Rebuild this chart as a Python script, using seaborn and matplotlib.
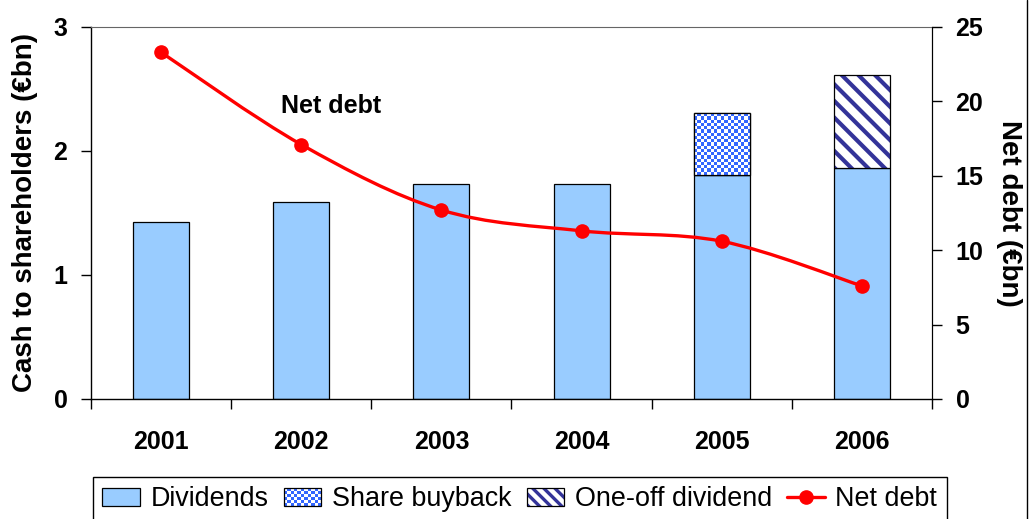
import numpy as np
import pandas as pd
import matplotlib
matplotlib.use("Agg")
import matplotlib.pyplot as plt
from matplotlib.path import Path
from matplotlib.patches import PathPatch, Patch, Rectangle
from matplotlib.lines import Line2D
from matplotlib.colors import ListedColormap
from matplotlib.legend_handler import HandlerBase
import seaborn as sns

# ---- data -------------------------------------------------------------
years = ["2001", "2002", "2003", "2004", "2005", "2006"]
dividends = [1.43, 1.59, 1.73, 1.73, 1.81, 1.86]          # € bn
share_buyback = [0, 0, 0, 0, 0.50, 0]                      # € bn
one_off_dividend = [0, 0, 0, 0, 0, 0.75]                   # € bn
net_debt = [23.3, 17.1, 12.7, 11.3, 10.6, 7.6]             # € bn
left_ticks = [0, 1, 2, 3]
right_ticks = [0, 5, 10, 15, 20, 25]

# ---- style ------------------------------------------------------------
sns.set_style("ticks")
plt.rcParams["font.family"] = ["Liberation Sans", "DejaVu Sans"]
plt.rcParams["font.weight"] = "bold"
plt.rcParams["hatch.linewidth"] = 3.0
for key in ["text.color", "axes.labelcolor", "xtick.color", "ytick.color",
            "xtick.labelcolor", "ytick.labelcolor"]:
    plt.rcParams[key] = "black"

DIV_COLOR = "#99CCFF"
BUY_COLOR = "#3366FF"
ONE_COLOR = "#333399"
LINE_COLOR = "#FF0000"

df = pd.DataFrame({
    "year": years,
    "dividends": dividends,
    "share_buyback": share_buyback,
    "one_off_dividend": one_off_dividend,
})

W, H = 1032, 519
fig = plt.figure(figsize=(W / 100, H / 100), dpi=100)
ax = fig.add_axes([91 / W, 1 - 399 / H, 841 / W, 372 / H])


def set_limits():
    ax.set_xlim(-0.5, len(years) - 0.5)
    ax.set_ylim(0, 3)


# Dividends (base segment)
sns.barplot(data=df, x="year", y="dividends", color=DIV_COLOR, saturation=1,
            width=0.4, edgecolor="black", linewidth=0.9, errorbar=None, ax=ax)
set_limits()

# Share buyback stacked on dividends
n0 = len(ax.patches)
sns.barplot(data=df, x="year", y="share_buyback", color="white", saturation=1,
            width=0.4, edgecolor="black", linewidth=0.9, errorbar=None, ax=ax,
            bottom=np.array(dividends))
buy_bars = ax.patches[n0:]
set_limits()


def checker_fill(bar, color, cell_px=3.3):
    x0, y0 = bar.get_x(), bar.get_y()
    w, h = bar.get_width(), bar.get_height()
    (px0, py0), (px1, py1) = ax.transData.transform([(x0, y0), (x0 + w, y0 + h)])
    nx = max(1, int(round(abs(px1 - px0) / cell_px)))
    ny = max(1, int(round(abs(py1 - py0) / cell_px)))
    grid = np.add.outer(np.arange(ny), np.arange(nx)) % 2
    im = ax.imshow(grid, extent=(x0, x0 + w, y0, y0 + h),
                   cmap=ListedColormap(["white", color]), vmin=0, vmax=1,
                   interpolation="nearest", aspect="auto", origin="lower",
                   zorder=bar.get_zorder() + 0.1)
    im.set_clip_path(bar)
    ax.add_patch(Rectangle((x0, y0), w, h, facecolor="none", edgecolor="black",
                           linewidth=0.9, zorder=bar.get_zorder() + 0.2))


for bar in list(buy_bars):
    if bar.get_height() <= 0:
        bar.set_visible(False)
    else:
        bar.set_facecolor("white")
        checker_fill(bar, BUY_COLOR)
set_limits()

# One-off dividend stacked on top
n1 = len(ax.patches)
sns.barplot(data=df, x="year", y="one_off_dividend", color="white", saturation=1,
            width=0.4, edgecolor=ONE_COLOR, linewidth=0, errorbar=None, ax=ax,
            bottom=np.array(dividends) + np.array(share_buyback))
one_bars = ax.patches[n1:]
for bar in list(one_bars):
    if bar.get_height() <= 0:
        bar.set_visible(False)
    else:
        bar.set_facecolor("white")
        bar.set_edgecolor(ONE_COLOR)
        bar.set_linewidth(0)
        bar.set_hatch("\\\\")
        if hasattr(bar, "set_hatch_linewidth"):
            bar.set_hatch_linewidth(3.0)
        ax.add_patch(Rectangle((bar.get_x(), bar.get_y()), bar.get_width(),
                               bar.get_height(), facecolor="none",
                               edgecolor="black", linewidth=0.9,
                               zorder=bar.get_zorder() + 0.2))
set_limits()

# ---- left axis / x axis ----------------------------------------------
ax.set_yticks(left_ticks)
ax.set_yticklabels([str(t) for t in left_ticks])
ax.tick_params(axis="y", direction="out", length=7, width=1, pad=10,
               labelsize=18, color="black", labelcolor="black")
ax.set_xticks(np.arange(-0.5, len(years), 1.0))
ax.set_xticklabels([""] * (len(years) + 1))
ax.set_xticks(np.arange(len(years)), minor=True)
ax.set_xticklabels(years, minor=True)
ax.tick_params(axis="x", which="major", direction="out", length=7, width=1,
               color="black")
ax.tick_params(axis="x", which="minor", length=0, pad=22, labelsize=18,
               labelcolor="black")
ax.set_xlabel("")
ax.set_ylabel("Cash to shareholders (€bn)", fontsize=20, fontweight="bold",
              va="center", color="black")
ax.yaxis.set_label_coords(-0.078, 0.5)
for side in ["left", "bottom"]:
    ax.spines[side].set_color("black")
    ax.spines[side].set_linewidth(1)
ax.spines["top"].set_color("#666666")
ax.spines["right"].set_color("black")
ax.text(1.21, 2.36, "Net debt", ha="center", va="center", fontsize=18,
        fontweight="bold", color="black")

# ---- right axis: net debt --------------------------------------------
ax2 = ax.twinx()
ax2.set_ylim(0, 25)
ax2.set_yticks(right_ticks)
ax2.set_yticklabels([str(t) for t in right_ticks])
ax2.tick_params(axis="y", direction="out", length=7, width=1, pad=10,
                labelsize=18, color="black", labelcolor="black")
ax2.set_ylabel("Net debt (€bn)", rotation=-90, fontsize=20, fontweight="bold",
               va="center", color="black")
ax2.yaxis.set_label_coords(1.091, 0.5)
for side in ["top", "left", "bottom"]:
    ax2.spines[side].set_visible(False)
ax2.spines["right"].set_color("black")

xs = np.arange(len(years), dtype=float)
pts = np.column_stack([xs, np.array(net_debt, dtype=float)])
verts = [tuple(pts[0])]
codes = [Path.MOVETO]
n = len(pts)
for i in range(n - 1):
    p0 = pts[max(i - 1, 0)]
    p1 = pts[i]
    p2 = pts[i + 1]
    p3 = pts[min(i + 2, n - 1)]
    c1 = p1 + (p2 - p0) / 6.0
    c2 = p2 - (p3 - p1) / 6.0
    verts += [tuple(c1), tuple(c2), tuple(p2)]
    codes += [Path.CURVE4] * 3
ax2.add_patch(PathPatch(Path(verts, codes), facecolor="none",
                        edgecolor=LINE_COLOR, linewidth=2.4, capstyle="round",
                        joinstyle="round", zorder=3))
ax2.plot(xs, net_debt, linestyle="none", marker="o", markersize=9.5,
         color=LINE_COLOR, zorder=4)
ax2.set_xlim(-0.5, len(years) - 0.5)
ax2.set_ylim(0, 25)
set_limits()


# ---- legend -----------------------------------------------------------
class CheckerHandler(HandlerBase):
    def __init__(self, color, cell=2.4, **kw):
        super().__init__(**kw)
        self.color = color
        self.cell = cell

    def create_artists(self, legend, orig_handle, xdescent, ydescent, width,
                       height, fontsize, trans):
        x0, y0 = -xdescent, -ydescent
        arts = [Rectangle((x0, y0), width, height, facecolor="white",
                          edgecolor="none", transform=trans)]
        nx = max(1, int(round(width / self.cell)))
        ny = max(1, int(round(height / self.cell)))
        cw, ch = width / nx, height / ny
        for i in range(nx):
            for j in range(ny):
                if (i + j) % 2 == 0:
                    arts.append(Rectangle((x0 + i * cw, y0 + j * ch), cw, ch,
                                          facecolor=self.color, edgecolor="none",
                                          linewidth=0, transform=trans))
        arts.append(Rectangle((x0, y0), width, height, facecolor="none",
                              edgecolor="black", linewidth=0.9, transform=trans))
        return arts


class HatchHandler(HandlerBase):
    def __init__(self, color, hatch, **kw):
        super().__init__(**kw)
        self.color = color
        self.hatch = hatch

    def create_artists(self, legend, orig_handle, xdescent, ydescent, width,
                       height, fontsize, trans):
        x0, y0 = -xdescent, -ydescent
        r = Rectangle((x0, y0), width, height, facecolor="white",
                      edgecolor=self.color, linewidth=0, hatch=self.hatch,
                      transform=trans)
        if hasattr(r, "set_hatch_linewidth"):
            r.set_hatch_linewidth(2.4)
        b = Rectangle((x0, y0), width, height, facecolor="none",
                      edgecolor="black", linewidth=0.9, transform=trans)
        return [r, b]


h_div = Patch(facecolor=DIV_COLOR, edgecolor="black", linewidth=0.9)
h_buy = Patch(facecolor="white")
h_one = Patch(facecolor="white", hatch="\\\\")
h_net = Line2D([], [], color=LINE_COLOR, linewidth=2.4, marker="o",
               markersize=9.5)
leg = fig.legend([h_div, h_buy, h_one, h_net],
                 ["Dividends", "Share buyback", "One-off dividend", "Net debt"],
                 handler_map={h_buy: CheckerHandler(BUY_COLOR),
                              h_one: HatchHandler(ONE_COLOR, "\\\\\\")},
                 loc="upper left", bbox_to_anchor=(93 / W, 1 - 477 / H),
                 ncol=4, frameon=True, fancybox=False, framealpha=1,
                 edgecolor="black", prop={"size": 19.4, "weight": "normal"},
                 handlelength=1.4, handletextpad=0.39, columnspacing=0.56,
                 borderpad=0.35, borderaxespad=0, numpoints=1)
leg.get_frame().set_linewidth(1)

# right-hand frame line of the chart area
fig.add_artist(Line2D([1026.5 / W, 1026.5 / W], [0, 1],
                      transform=fig.transFigure, color="black", linewidth=1))

fig.savefig("out.png", dpi=100)
